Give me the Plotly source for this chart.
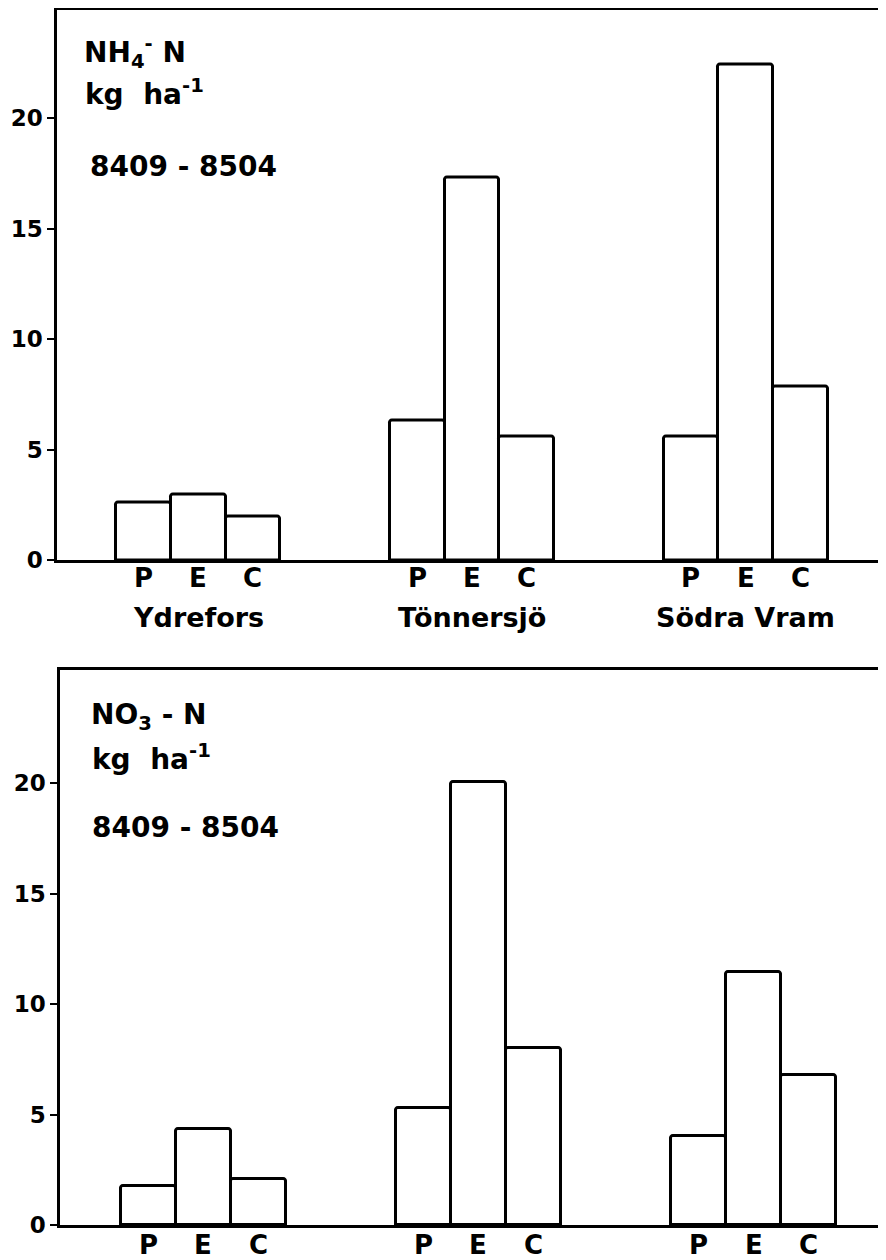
import plotly.graph_objects as go

sites = ["Ydrefors", "Tönnersjö", "Södra Vram"]
treatments = ["P", "E", "C"]
nh4_values = [2.6, 2.97, 1.96, 6.33, 17.3, 5.6, 5.6, 22.4, 7.85]
no3_values = [1.75, 4.33, 2.07, 5.28, 20.05, 8.0, 4.03, 11.45, 6.79]
ytick_vals = [0, 5, 10, 15, 20]

# bar positions: groups of three adjacent bars, groups 5 units apart
positions = [g * 5 + i + 1 for g in range(3) for i in range(3)]
tick_text = treatments * 3
group_centers = [g * 5 + 2 for g in range(3)]

FONT = "DejaVu Sans"
# page body has an 8px margin, so the figure is placed at (8, 8) in the window
OFF = 8
W, H = 886 - OFF, 1260 - OFF


def px(screen_x):
    return (screen_x - OFF) / W


def py(screen_y):
    return (H - (screen_y - OFF)) / H


fig = go.Figure()
bar_style = dict(marker=dict(color="white", line=dict(color="black", width=3), cornerradius=3),
                 width=1, showlegend=False, hoverinfo="skip")
fig.add_trace(go.Bar(x=positions, y=nh4_values, xaxis="x", yaxis="y", **bar_style))
fig.add_trace(go.Bar(x=positions, y=no3_values, xaxis="x2", yaxis="y2", **bar_style))

axis_common = dict(showline=True, linecolor="black", linewidth=2.5, mirror=True,
                   showgrid=False, zeroline=False, automargin=False)
yaxis_common = dict(axis_common, tickvals=ytick_vals, ticks="outside",
                    ticklen=7, tickwidth=2, tickcolor="black",
                    tickfont=dict(family=FONT, size=23, color="black", weight="bold"))
xaxis_common = dict(axis_common, showticklabels=False, ticks="")

PXU = 22.1  # pixels per unit on the y axes
top_y0, top_y1 = 560, 9.5
bot_y0, bot_y1 = 1225, 670

fig.update_layout(
    width=W, height=H,
    margin=dict(l=0, r=0, t=0, b=0),
    plot_bgcolor="white", paper_bgcolor="white",
    bargap=0,
    xaxis=dict(xaxis_common, domain=[px(57), px(883)], range=[-0.58, 14.51], anchor="y"),
    yaxis=dict(yaxis_common, domain=[py(top_y0), py(top_y1)],
               range=[0, (top_y0 - top_y1) / PXU], anchor="x"),
    xaxis2=dict(xaxis_common, domain=[px(60), px(884)], range=[-0.6, 14.37], anchor="y2"),
    yaxis2=dict(yaxis_common, domain=[py(bot_y0), py(bot_y1)],
                range=[0, (bot_y0 - bot_y1) / PXU], anchor="x2"),
)

cat_font = dict(family=FONT, size=26, color="black", weight="bold")
# treatment letters under each bar
for xref, ypix in (("x", 578), ("x2", 1245)):
    for pos, lab in zip(positions, tick_text):
        fig.add_annotation(x=pos, y=py(ypix), xref=xref, yref="paper", text=lab,
                           showarrow=False, xanchor="center", yanchor="middle", font=cat_font)

# site names below the top panel
for name, cx in zip(sites, group_centers):
    fig.add_annotation(x=cx, y=py(618), xref="x", yref="paper", text=name,
                       showarrow=False, xanchor="center", yanchor="middle",
                       font=dict(family=FONT, size=27, color="black", weight="bold"))

ann_font = dict(family=FONT, size=28, color="black", weight="bold")
# panel labels (text, left x, centre y) in window pixels
labels_top = [("NH<sub>4</sub><sup>-</sup> N", 82, 53), ("kg  ha<sup>-1</sup>", 83, 93),
              ("8409 - 8504", 88, 166)]
labels_bot = [("NO<sub>3</sub> - N", 89, 716), ("kg  ha<sup>-1</sup>", 90, 757),
              ("8409 - 8504", 90, 827)]
for text, xpix, ypix in labels_top + labels_bot:
    fig.add_annotation(x=px(xpix), y=py(ypix), xref="paper", yref="paper", text=text,
                       showarrow=False, xanchor="left", yanchor="middle", font=ann_font)

fig.write_html("out.html")
